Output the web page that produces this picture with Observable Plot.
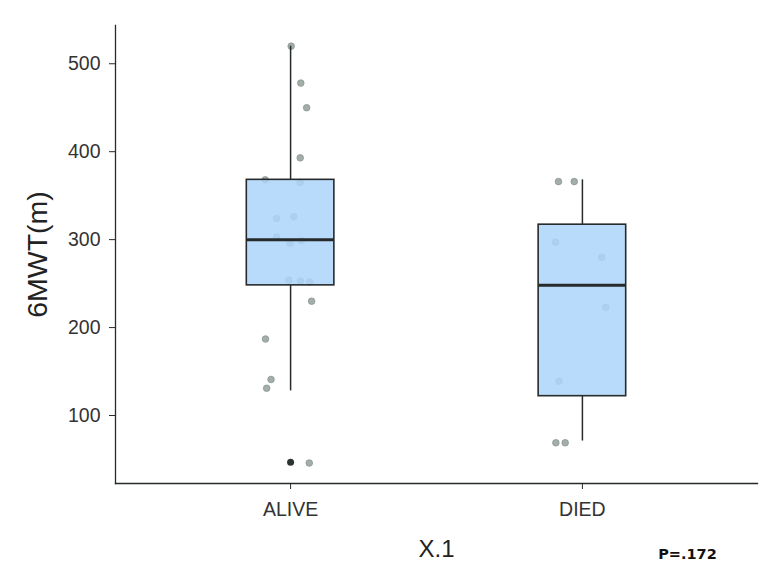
<!DOCTYPE html>
<html>
<head>
<meta charset="utf-8">
<script src="https://cdn.jsdelivr.net/npm/d3@7"></script>
<script src="https://cdn.jsdelivr.net/npm/@observablehq/plot@0.6"></script>
<style>
  html, body { margin: 0; padding: 0; background: #ffffff; }
  #chart { width: 782px; height: 584px; }
</style>
</head>
<body>
<div id="chart"></div>
<script>
// ---- Data ----
const groups = ["ALIVE", "DIED"];
// box statistics per group
const q1 = [248, 122];
const median = [300, 248];
const q3 = [368, 317];
const whiskerLow = [128, 71];
const whiskerHigh = [520, 368];
// boxplot outliers
const outlierGroup = ["ALIVE"];
const outlierValue = [47];
// jittered observations: group, horizontal jitter (in category units), value
const pointGroup = [
  "ALIVE","ALIVE","ALIVE","ALIVE","ALIVE","ALIVE","ALIVE","ALIVE","ALIVE","ALIVE",
  "ALIVE","ALIVE","ALIVE","ALIVE","ALIVE","ALIVE","ALIVE","ALIVE","ALIVE",
  "DIED","DIED","DIED","DIED","DIED","DIED","DIED","DIED"
];
const pointJitter = [
  0.002, 0.035, 0.055, 0.033, -0.087, 0.033, -0.048, 0.011, -0.048, -0.002,
  0.037, -0.006, 0.034, 0.066, 0.072, -0.086, -0.067, -0.082, 0.064,
  -0.082, -0.028, -0.092, 0.066, 0.080, -0.080, -0.091, -0.059
];
const pointValue = [
  520, 478, 450, 393, 368, 365, 324, 326, 303, 296,
  299, 254, 253, 252, 230, 187, 141, 131, 46,
  366, 366, 297, 280, 223, 139, 69, 69
];
const yTicks = [100, 200, 300, 400, 500];
const xTitle = "X.1";
const yTitle = "6MWT(m)";
const pValueLabel = "P=.172";

// ---- Tables built from the arrays ----
const boxes = groups.map((g, i) => ({
  group: g, pos: i + 1,
  q1: q1[i], median: median[i], q3: q3[i],
  lo: whiskerLow[i], hi: whiskerHigh[i]
}));
const outliers = outlierGroup.map((g, i) => ({pos: groups.indexOf(g) + 1, value: outlierValue[i]}));
const points = pointGroup.map((g, i) => ({
  pos: groups.indexOf(g) + 1, jitter: pointJitter[i], value: pointValue[i]
}));

const halfBox = 0.15;
const ink = "#262a2b";

const chart = Plot.plot({
  width: 782,
  height: 584,
  marginLeft: 115,
  marginRight: 25,
  marginTop: 25,
  marginBottom: 101,
  style: {
    fontFamily: "'Liberation Sans', Arial, Helvetica, sans-serif",
    color: "#333333",
    background: "#ffffff"
  },
  x: {type: "linear", domain: [0.4, 2.6]},
  y: {domain: [22.7, 543.5]},
  marks: [
    // jittered observations (under the boxes)
    Plot.dot(points, {
      x: d => d.pos + d.jitter, y: "value",
      r: 3.3, fill: "#a3aea9", stroke: "#8a9590", strokeWidth: 0.8
    }),
    // whiskers
    Plot.ruleX(boxes, {x: "pos", y1: "q3", y2: "hi", stroke: ink, strokeWidth: 1.5}),
    Plot.ruleX(boxes, {x: "pos", y1: "lo", y2: "q1", stroke: ink, strokeWidth: 1.5}),
    // boxes
    Plot.rect(boxes, {
      x1: d => d.pos - halfBox, x2: d => d.pos + halfBox,
      y1: "q1", y2: "q3",
      fill: "#add5fa", fillOpacity: 0.86, stroke: ink, strokeWidth: 1.6
    }),
    // medians
    Plot.ruleY(boxes, {
      y: "median", x1: d => d.pos - halfBox, x2: d => d.pos + halfBox,
      stroke: ink, strokeWidth: 3
    }),
    // outliers
    Plot.dot(outliers, {x: "pos", y: "value", r: 3.5, fill: "#2c3333", stroke: "none"}),
    // axes
    Plot.axisY({
      ticks: yTicks, tickSize: 6, tickPadding: 9, fontSize: 19.5,
      label: null, stroke: ink
    }),
    Plot.axisX({
      ticks: [1, 2], tickFormat: d => groups[d - 1],
      tickSize: 6, tickPadding: 13, fontSize: 19.5, label: null, stroke: ink
    }),
    Plot.frame({anchor: "left", stroke: ink, strokeWidth: 1.3}),
    Plot.frame({anchor: "bottom", stroke: ink, strokeWidth: 1.3}),
    // titles
    Plot.text([xTitle], {
      text: d => d, frameAnchor: "bottom", dy: 66, lineAnchor: "middle",
      fontSize: 24, fill: "#222222"
    }),
    Plot.text([yTitle], {
      text: d => d, frameAnchor: "left", dx: -78, rotate: -90,
      lineAnchor: "middle", textAnchor: "middle",
      fontSize: 28.5, fill: "#222222"
    }),
    Plot.text([pValueLabel], {
      text: d => d, frameAnchor: "bottom-right", dx: -70, dy: 70.5,
      lineAnchor: "middle", textAnchor: "middle",
      fontSize: 14.5, fontWeight: "bold", fontFamily: "'DejaVu Sans', sans-serif",
      fill: "#111111"
    })
  ]
});

document.getElementById("chart").appendChild(chart);
</script>
</body>
</html>
